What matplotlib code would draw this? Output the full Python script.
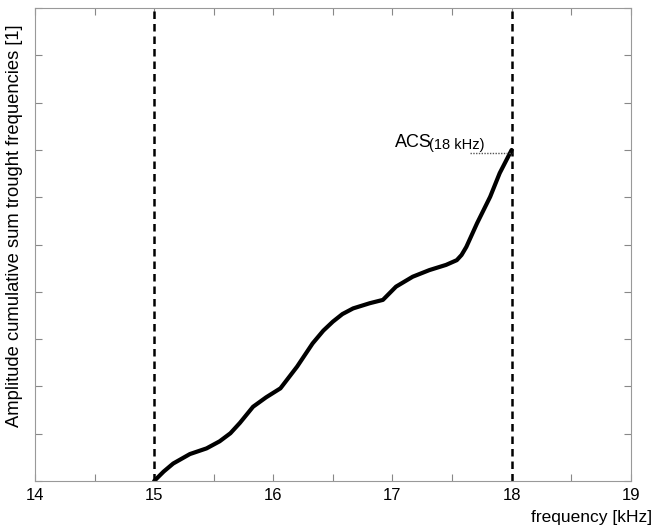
import matplotlib.pyplot as plt

plt.rcParams['font.family'] = ['Liberation Sans', 'DejaVu Sans']

# curve
freq = [15.0, 15.08, 15.16, 15.30, 15.44, 15.55, 15.64, 15.72, 15.83, 15.94,
        16.06, 16.20, 16.33, 16.42, 16.50, 16.58, 16.67, 16.81, 16.92, 17.03,
        17.17, 17.31, 17.45, 17.54, 17.58, 17.62, 17.71, 17.82, 17.90, 18.0]
acs = [0.0, 0.2, 0.37, 0.57, 0.69, 0.84, 1.01, 1.23, 1.57, 1.77,
       1.96, 2.42, 2.91, 3.18, 3.37, 3.53, 3.65, 3.76, 3.83, 4.11,
       4.32, 4.46, 4.57, 4.67, 4.78, 4.95, 5.45, 6.01, 6.51, 7.0]

x_ticks = [14, 14.5, 15, 15.5, 16, 16.5, 17, 17.5, 18, 18.5, 19]
x_labels = ['14', '', '15', '', '16', '', '17', '', '18', '', '19']
y_ticks = list(range(0, 11))
band = [15, 18]

fig = plt.figure(figsize=(6.55, 5.29), dpi=100)
ax = fig.add_axes([0.0534, 0.0907, 0.9096, 0.894])

ax.plot(freq, acs, color='black', lw=3.0, solid_capstyle='round', solid_joinstyle='round')
for b in band:
    ax.axvline(b, color='black', lw=1.8, ls=(0, (3, 2)))

ax.plot([17.65, 18.0], [6.94, 6.94], color='#555555', lw=1, ls=(0, (1, 1)))
ax.text(17.02, 7.07, 'ACS', fontsize=13, ha='left', va='baseline')
ax.text(17.31, 7.03, '(18 kHz)', fontsize=10.5, ha='left', va='baseline')

ax.set_xlim(14, 19)
ax.set_ylim(0, 10)
ax.set_xticks(x_ticks)
ax.set_xticklabels(x_labels)
ax.set_yticks(y_ticks)
ax.set_yticklabels([])
ax.tick_params(direction='in', length=5, color='#888888', top=True, right=True,
               labelsize=12, pad=5)
for s in ax.spines.values():
    s.set_color('#999999')

ax.set_ylabel('Amplitude cumulative sum trought frequencies [1]', fontsize=13.2)
ax.yaxis.set_label_coords(-0.02, 0.54)
fig.text(0.996, 0.008, 'frequency [kHz]', fontsize=12.5, ha='right', va='bottom')

fig.savefig('out.png', dpi=100)
